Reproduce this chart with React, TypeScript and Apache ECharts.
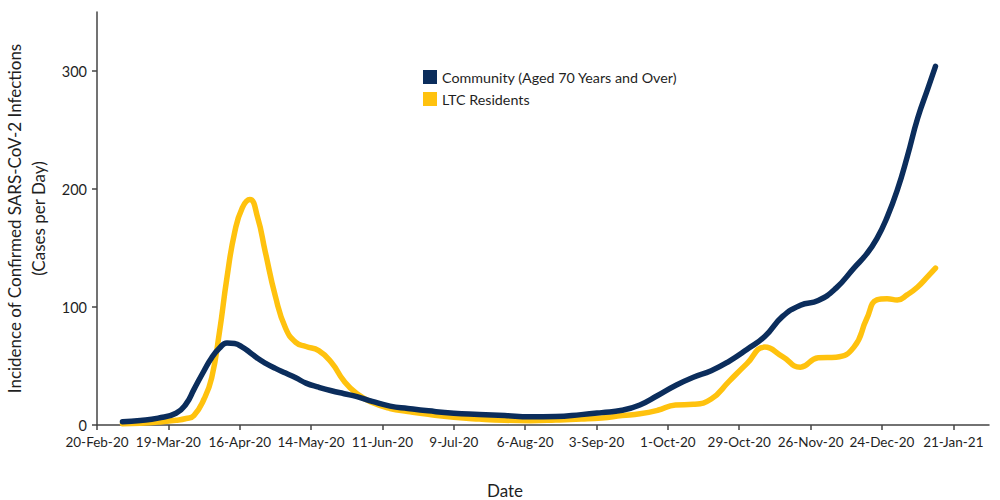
import React, { useEffect, useRef } from "react";
import * as echarts from "echarts";

const BASE_DATE_UTC = Date.UTC(2020, 1, 20);
const TICK_STEP_DAYS = 28;
const X_MAX_DAYS = 350;

const tickLabels = [
  "20-Feb-20", "19-Mar-20", "16-Apr-20", "14-May-20", "11-Jun-20", "9-Jul-20",
  "6-Aug-20", "3-Sep-20", "1-Oct-20", "29-Oct-20", "26-Nov-20", "24-Dec-20", "21-Jan-21",
];

const yTicks = [0, 100, 200, 300];

// days since 20-Feb-20
const dayOffsets = [
  10, 17, 24, 31, 35, 38, 42, 45, 48, 51, 54, 57, 60, 63, 66, 70, 74, 78, 82, 87,
  92, 97, 102, 108, 115, 122, 130, 140, 150, 160, 170, 180, 190, 198, 206, 213, 220, 227,
  234, 241, 248, 255, 262, 269, 276, 283, 290, 297, 302, 306, 310, 314, 318, 322, 326, 329,
];

const communityValues = [
  2.8, 3.8, 5.8, 10, 18, 30, 46, 57, 65, 69.5, 69, 66, 61.5, 56.5, 52.5, 48, 44, 40, 35.5, 32,
  29, 26.5, 24, 20, 16, 14, 12, 10, 9, 8, 7, 7.2, 8.8, 10.5, 12.5, 17, 25, 33.5,
  40.5, 46, 54, 64, 75, 92, 101.5, 105.5, 116, 133, 145, 158, 176, 199, 228, 260, 285, 304,
];

const ltcValues = [
  1, 1.5, 2.5, 4, 5.5, 8, 22, 40, 78, 125, 163, 184, 191, 176, 147, 109, 82, 70, 66.5, 63,
  53, 37, 26.5, 19, 14, 11.5, 9, 6.5, 5, 4, 3.7, 4.2, 5, 6, 8, 9.5, 12.5, 17,
  17.5, 22, 37, 52, 66, 58, 49, 57, 57.5, 66, 90, 106, 107, 106, 110.5, 117, 126, 133,
];

const COMMUNITY = "Community (Aged 70 Years and Over)";
const LTC = "LTC Residents";
const NAVY = "#0b2d5c";
const GOLD = "#ffc20e";
const FONT = "Lato, 'Open Sans', sans-serif";
const TEXT = "#1f1f1f";
const AXIS = "#444444";

export default function App() {
  const ref = useRef<HTMLDivElement>(null);

  useEffect(() => {
    if (!ref.current) return;
    const chart = echarts.init(ref.current, undefined, { renderer: "svg" });
    const xTickValues = tickLabels.map((_, i) => i * TICK_STEP_DAYS);

    chart.setOption({
      animation: false,
      backgroundColor: "#ffffff",
      textStyle: { fontFamily: FONT },
      grid: { left: 97, right: 11, top: 12, bottom: 75, outerBoundsMode: "none" },
      legend: {
        data: [COMMUNITY, LTC],
        orient: "vertical",
        left: 418,
        top: 65,
        icon: "rect",
        itemWidth: 14,
        itemHeight: 14,
        itemGap: 8,
        textStyle: { fontFamily: FONT, fontSize: 14.3, color: TEXT },
      },
      xAxis: {
        type: "value",
        min: 0,
        max: X_MAX_DAYS,
        name: "Date",
        nameLocation: "middle",
        nameGap: 57,
        nameTextStyle: { fontFamily: FONT, fontSize: 17, color: TEXT, padding: [0, 76, 0, 0] },
        splitLine: { show: false },
        axisLine: { show: true, lineStyle: { color: AXIS, width: 1.5 } },
        axisTick: { show: true, length: 5, lineStyle: { color: AXIS, width: 1.5 }, customValues: xTickValues },
        axisLabel: {
          customValues: xTickValues,
          margin: 10,
          fontSize: 13.5,
          fontFamily: FONT,
          color: TEXT,
          formatter: (v: number) => tickLabels[Math.round(v / TICK_STEP_DAYS)] ?? "",
        },
      },
      yAxis: {
        type: "value",
        min: 0,
        max: 350,
        name: "Incidence of Confirmed SARS-CoV-2 Infections\n(Cases per Day)",
        nameLocation: "middle",
        nameGap: 36,
        nameTextStyle: { fontFamily: FONT, fontSize: 17, color: TEXT, lineHeight: 24 },
        splitLine: { show: false },
        axisLine: { show: true, lineStyle: { color: AXIS, width: 1.5 } },
        axisTick: { show: true, length: 5, lineStyle: { color: AXIS, width: 1.5 }, customValues: yTicks },
        axisLabel: { customValues: yTicks, margin: 10, fontSize: 14.5, fontFamily: FONT, color: TEXT },
      },
      series: [
        {
          name: LTC,
          type: "line",
          smooth: 0.5,
          showSymbol: false,
          symbol: "none",
          itemStyle: { color: GOLD },
          lineStyle: { color: GOLD, width: 5.5, cap: "round" },
          data: dayOffsets.map((d, i) => [d, ltcValues[i]]),
        },
        {
          name: COMMUNITY,
          type: "line",
          smooth: 0.5,
          showSymbol: false,
          symbol: "none",
          itemStyle: { color: NAVY },
          lineStyle: { color: NAVY, width: 5.5, cap: "round" },
          data: dayOffsets.map((d, i) => [d, communityValues[i]]),
        },
      ],
    });

    return () => chart.dispose();
  }, []);

  return (
    <div
      ref={ref}
      style={{ position: "absolute", left: 0, top: 0, width: 1000, height: 500 }}
    />
  );
}
